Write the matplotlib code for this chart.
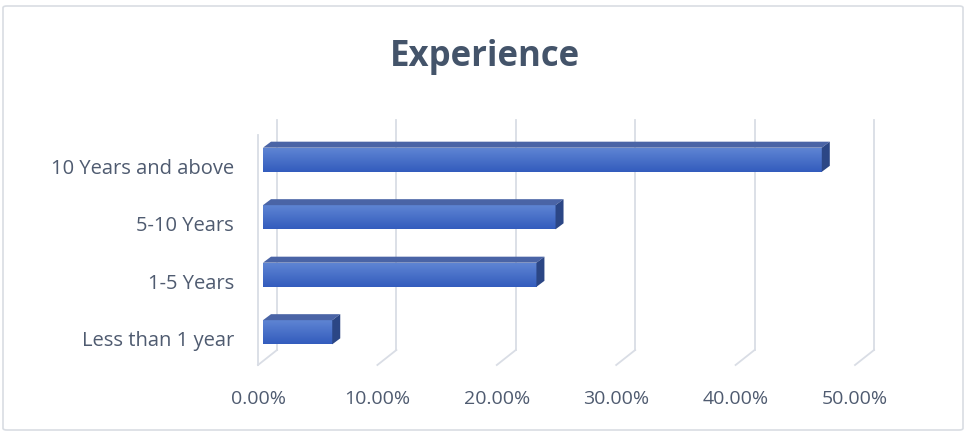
import numpy as np
import matplotlib
matplotlib.use('Agg')
import matplotlib.pyplot as plt
import matplotlib.transforms as mtransforms
from matplotlib.patches import Polygon, FancyBboxPatch

# data (bottom to top, as drawn)
categories = ['Less than 1 year', '1-5 Years', '5-10 Years', '10 Years and above']
shares = [0.058, 0.229, 0.245, 0.468]
x_ticks = [0.0, 0.1, 0.2, 0.3, 0.4, 0.5]

W, H = 966, 435
fig = plt.figure(figsize=(W / 100, H / 100), dpi=100)
fig.patch.set_facecolor('white')

# chart border
fig.patches.append(FancyBboxPatch((3 / W, 4 / H), 960 / W, 424 / H,
                                  boxstyle='round,pad=0,rounding_size=0.004',
                                  transform=fig.transFigure, fill=False,
                                  edgecolor='#d9dde3', linewidth=1.2))

fig.text(485 / W, 1 - 57 / H, 'Experience', ha='center', va='center',
         fontsize=25, fontweight='bold', color='#44546A', family='Open Sans')

# bar plane: 0% at x=263 px, 50% at x=860 px; categories between y=132 and y=362 px
ax = fig.add_axes([263 / W, (H - 362) / H, 597 / W, 230 / H])
ax.set_xlim(0, 0.5)
ax.set_ylim(-0.5, 3.5)
ax.axis('off')

def shifted(dx, dy):
    return mtransforms.offset_copy(ax.transData, fig=fig, x=dx, y=dy, units='dots')

back = shifted(14, 11)
front = shifted(-5, -4)
grid_c = '#d9dde5'

# back wall gridlines
for t in x_ticks:
    ax.plot([t, t], [-0.5, 3.5], color=grid_c, lw=1.3, transform=back, zorder=1,
            clip_on=False)
    # floor lines running from the back wall to the front edge
    p_back = back.transform((t, -0.5))
    p_front = front.transform((t, -0.5))
    ax.plot([p_back[0], p_front[0]], [p_back[1], p_front[1]], color=grid_c, lw=1.3,
            transform=None, zorder=1, clip_on=False)
# left side wall front edge
ax.plot([0, 0], [-0.5, 3.5], color=grid_c, lw=1.3, transform=front, zorder=1, clip_on=False)

# tick labels on the front edge
lab_c = '#4f5b70'
for t in x_ticks:
    ax.text(t, -0.5, f'{t * 100:.2f}%', transform=shifted(-5, -37), ha='center', va='center',
            fontsize=14, color=lab_c, family='Open Sans')

ypos = np.arange(len(categories))
for y, c in zip(ypos, categories):
    ax.text(0, y, c, transform=shifted(-29, -8), ha='right', va='center',
            fontsize=14.5, color=lab_c, family='Open Sans')

# 3D bars
h = 0.42
dx, dy = 8, 6
grad = np.linspace(0, 1, 64).reshape(-1, 1)
top_c = np.array([0x60, 0x86, 0xd4]) / 255
bot_c = np.array([0x33, 0x5c, 0xbd]) / 255
cmap = matplotlib.colors.LinearSegmentedColormap.from_list('bar', [bot_c, top_c])
bars = ax.barh(ypos, shares, height=h, color='#4472C4', zorder=3, linewidth=0)
for b, v, y in zip(bars, shares, ypos):
    im = ax.imshow(grad, extent=[0, v, y - h / 2, y + h / 2], aspect='auto',
                   cmap=cmap, origin='lower', zorder=4, interpolation='bilinear')
    im.set_clip_path(b)
    # top face
    p0 = ax.transData.transform((0, y + h / 2))
    p1 = ax.transData.transform((v, y + h / 2))
    top = Polygon([p0, p1, p1 + [dx, dy], p0 + [dx, dy]], closed=True,
                  facecolor='#4a64a6', edgecolor='none', transform=None, zorder=5)
    ax.add_patch(top)
    # side face
    q0 = ax.transData.transform((v, y - h / 2))
    side = Polygon([q0, p1, p1 + [dx, dy], q0 + [dx, dy]], closed=True,
                   facecolor='#2b4685', edgecolor='none', transform=None, zorder=5)
    ax.add_patch(side)

ax.set_xlim(0, 0.5)
ax.set_ylim(-0.5, 3.5)
fig.savefig('out.png', dpi=100)
